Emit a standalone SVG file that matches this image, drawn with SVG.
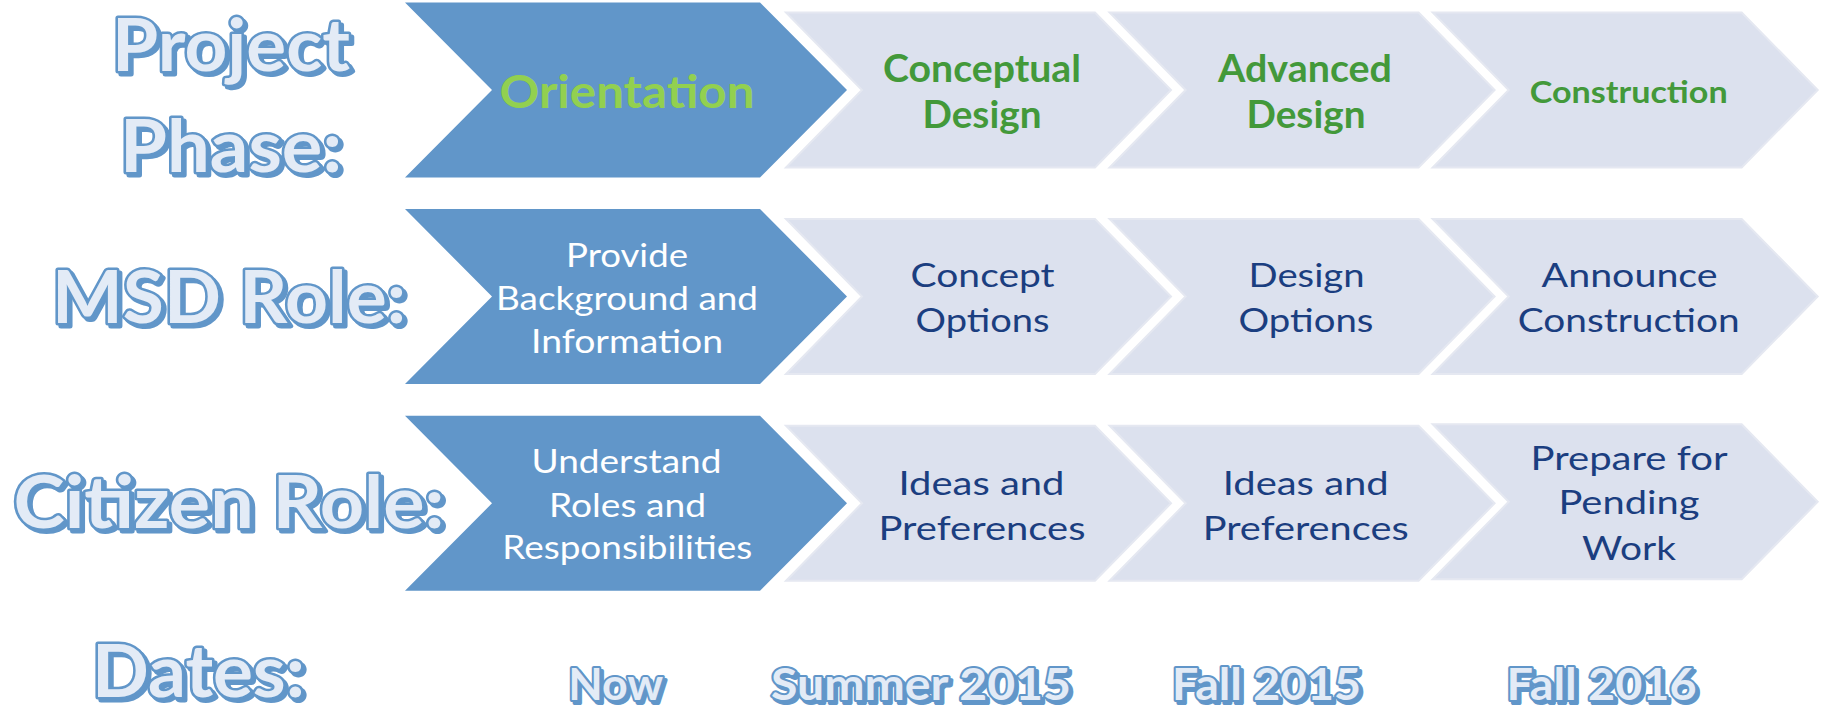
<svg xmlns="http://www.w3.org/2000/svg" width="1826" height="715" viewBox="0 0 1826 715">
<style>
.bg{fill:#ffffff}
.dk{fill:#6196C9}
.lt{fill:#DCE1EE;stroke:#E5E8F1;stroke-width:2}
.ph{font-family:Lato,"Open Sans",sans-serif;font-weight:700;text-anchor:middle}
.g1{fill:#92D050}
.g2{fill:#43993A}
.tx{font-family:Lato,"Open Sans",sans-serif;font-size:33px;text-anchor:middle}
.tw{fill:#ffffff}
.tn{fill:#1B3E80}
.lb{font-family:Lato,"Open Sans",sans-serif;font-weight:700;text-anchor:middle;stroke-linejoin:round}
.lbm{fill:#E3EBF6;stroke:#6196C9;stroke-width:5;paint-order:stroke}
.lbs{fill:#6196C9;stroke:#6196C9;stroke-width:5}
.big{font-size:72px}
.dt{font-size:44px}
.dtm{fill:#E3EBF6;stroke:#6196C9;stroke-width:4;paint-order:stroke}
.dts{fill:#6196C9;stroke:#6196C9;stroke-width:4}
</style>
<rect class="bg" x="0" y="0" width="1826" height="715"/>
<g id="connectors"/>

<!-- Row labels -->
<g id="label-project-phase" class="lb big">
  <text class="lbs" x="234" y="74" textLength="238" lengthAdjust="spacingAndGlyphs">Project</text>
  <text class="lbm" x="231" y="71" textLength="238" lengthAdjust="spacingAndGlyphs">Project</text>
  <text class="lbs" x="234" y="175" textLength="222" lengthAdjust="spacingAndGlyphs">Phase:</text>
  <text class="lbm" x="231" y="172" textLength="222" lengthAdjust="spacingAndGlyphs">Phase:</text>
</g>
<g id="label-msd-role" class="lb big">
  <text class="lbs" x="232" y="325.5" textLength="354" lengthAdjust="spacingAndGlyphs">MSD Role:</text>
  <text class="lbm" x="229" y="322.5" textLength="354" lengthAdjust="spacingAndGlyphs">MSD Role:</text>
</g>
<g id="label-citizen-role" class="lb big">
  <text class="lbs" x="232" y="531" textLength="431" lengthAdjust="spacingAndGlyphs">Citizen Role:</text>
  <text class="lbm" x="229" y="528" textLength="431" lengthAdjust="spacingAndGlyphs">Citizen Role:</text>
</g>
<g id="label-dates" class="lb big">
  <text class="lbs" x="201.5" y="700" textLength="213" lengthAdjust="spacingAndGlyphs">Dates:</text>
  <text class="lbm" x="198.5" y="697" textLength="213" lengthAdjust="spacingAndGlyphs">Dates:</text>
</g>

<!-- Row 1: Project Phase -->
<g id="phase-orientation">
  <polygon class="dk" points="405,2.5 760,2.5 847,90 760,177.5 405,177.5 492,90"/>
  <text class="ph g1" x="627" y="108" font-size="46" textLength="255" lengthAdjust="spacingAndGlyphs">Orientation</text>
</g>
<g id="phase-conceptual">
  <polygon class="lt" points="786,12.5 1095,12.5 1171,90 1095,167.5 786,167.5 862,90"/>
  <text class="ph g2" x="982" y="81.7" font-size="38" textLength="198" lengthAdjust="spacingAndGlyphs">Conceptual</text>
  <text class="ph g2" x="982" y="127.7" font-size="38" textLength="119" lengthAdjust="spacingAndGlyphs">Design</text>
</g>
<g id="phase-advanced">
  <polygon class="lt" points="1109.6,12.5 1418.6,12.5 1494.6,90 1418.6,167.5 1109.6,167.5 1185.6,90"/>
  <text class="ph g2" x="1305" y="81.7" font-size="38" textLength="174" lengthAdjust="spacingAndGlyphs">Advanced</text>
  <text class="ph g2" x="1306" y="127.7" font-size="38" textLength="119" lengthAdjust="spacingAndGlyphs">Design</text>
</g>
<g id="phase-construction">
  <polygon class="lt" points="1432.7,12.5 1741.7,12.5 1817.7,90 1741.7,167.5 1432.7,167.5 1508.7,90"/>
  <text class="ph g2" x="1628.7" y="103.3" font-size="31" textLength="198" lengthAdjust="spacingAndGlyphs">Construction</text>
</g>

<!-- Row 2: MSD Role -->
<g id="msd-orientation">
  <polygon class="dk" points="405,209 760,209 847,296.5 760,384 405,384 492,296.5"/>
  <text class="tx tw" x="627" y="266.7" textLength="122" lengthAdjust="spacingAndGlyphs">Provide</text>
  <text class="tx tw" x="627" y="310" textLength="262" lengthAdjust="spacingAndGlyphs">Background and</text>
  <text class="tx tw" x="627" y="352.7" textLength="192" lengthAdjust="spacingAndGlyphs">Information</text>
</g>
<g id="msd-conceptual">
  <polygon class="lt" points="786,219 1095,219 1171,296.5 1095,374 786,374 862,296.5"/>
  <text class="tx tn" x="982.6" y="287.3" textLength="144" lengthAdjust="spacingAndGlyphs">Concept</text>
  <text class="tx tn" x="982.6" y="331.7" textLength="134" lengthAdjust="spacingAndGlyphs">Options</text>
</g>
<g id="msd-advanced">
  <polygon class="lt" points="1109.6,219 1418.6,219 1494.6,296.5 1418.6,374 1109.6,374 1185.6,296.5"/>
  <text class="tx tn" x="1306.6" y="287.3" textLength="116" lengthAdjust="spacingAndGlyphs">Design</text>
  <text class="tx tn" x="1306" y="331.7" textLength="135" lengthAdjust="spacingAndGlyphs">Options</text>
</g>
<g id="msd-construction">
  <polygon class="lt" points="1432.7,219 1741.7,219 1817.7,296.5 1741.7,374 1432.7,374 1508.7,296.5"/>
  <text class="tx tn" x="1629.6" y="287.3" textLength="176" lengthAdjust="spacingAndGlyphs">Announce</text>
  <text class="tx tn" x="1628.7" y="331.7" textLength="222" lengthAdjust="spacingAndGlyphs">Construction</text>
</g>

<!-- Row 3: Citizen Role -->
<g id="citizen-orientation">
  <polygon class="dk" points="405,415.8 760,415.8 847,503.3 760,590.8 405,590.8 492,503.3"/>
  <text class="tx tw" x="626.5" y="473.3" textLength="190" lengthAdjust="spacingAndGlyphs">Understand</text>
  <text class="tx tw" x="627.5" y="516.7" textLength="157" lengthAdjust="spacingAndGlyphs">Roles and</text>
  <text class="tx tw" x="627.2" y="559" textLength="250" lengthAdjust="spacingAndGlyphs">Responsibilities</text>
</g>
<g id="citizen-conceptual">
  <polygon class="lt" points="786,425.8 1095,425.8 1171,503.3 1095,580.8 786,580.8 862,503.3"/>
  <text class="tx tn" x="981.5" y="495" textLength="166" lengthAdjust="spacingAndGlyphs">Ideas and</text>
  <text class="tx tn" x="982" y="540" textLength="207" lengthAdjust="spacingAndGlyphs">Preferences</text>
</g>
<g id="citizen-advanced">
  <polygon class="lt" points="1109.6,425.8 1418.6,425.8 1494.6,503.3 1418.6,580.8 1109.6,580.8 1185.6,503.3"/>
  <text class="tx tn" x="1305.7" y="495" textLength="166" lengthAdjust="spacingAndGlyphs">Ideas and</text>
  <text class="tx tn" x="1305.7" y="540" textLength="206" lengthAdjust="spacingAndGlyphs">Preferences</text>
</g>
<g id="citizen-construction">
  <polygon class="lt" points="1432.7,424.3 1741.7,424.3 1817.7,501.8 1741.7,579.3 1432.7,579.3 1508.7,501.8"/>
  <text class="tx tn" x="1629" y="470" textLength="197" lengthAdjust="spacingAndGlyphs">Prepare for</text>
  <text class="tx tn" x="1629" y="514" textLength="141" lengthAdjust="spacingAndGlyphs">Pending</text>
  <text class="tx tn" x="1629" y="560" textLength="94" lengthAdjust="spacingAndGlyphs">Work</text>
</g>

<!-- Dates -->
<g id="date-now" class="lb dt">
  <text class="dts" x="618.5" y="702.5" textLength="95" lengthAdjust="spacingAndGlyphs">Now</text>
  <text class="dtm" x="615.7" y="699.7" textLength="95" lengthAdjust="spacingAndGlyphs">Now</text>
</g>
<g id="date-summer-2015" class="lb dt">
  <text class="dts" x="923.8" y="702.5" textLength="300" lengthAdjust="spacingAndGlyphs">Summer 2015</text>
  <text class="dtm" x="921" y="699.7" textLength="300" lengthAdjust="spacingAndGlyphs">Summer 2015</text>
</g>
<g id="date-fall-2015" class="lb dt">
  <text class="dts" x="1269.3" y="702.5" textLength="189" lengthAdjust="spacingAndGlyphs">Fall 2015</text>
  <text class="dtm" x="1266.5" y="699.7" textLength="189" lengthAdjust="spacingAndGlyphs">Fall 2015</text>
</g>
<g id="date-fall-2016" class="lb dt">
  <text class="dts" x="1604.3" y="702.5" textLength="190" lengthAdjust="spacingAndGlyphs">Fall 2016</text>
  <text class="dtm" x="1601.5" y="699.7" textLength="190" lengthAdjust="spacingAndGlyphs">Fall 2016</text>
</g>
</svg>
